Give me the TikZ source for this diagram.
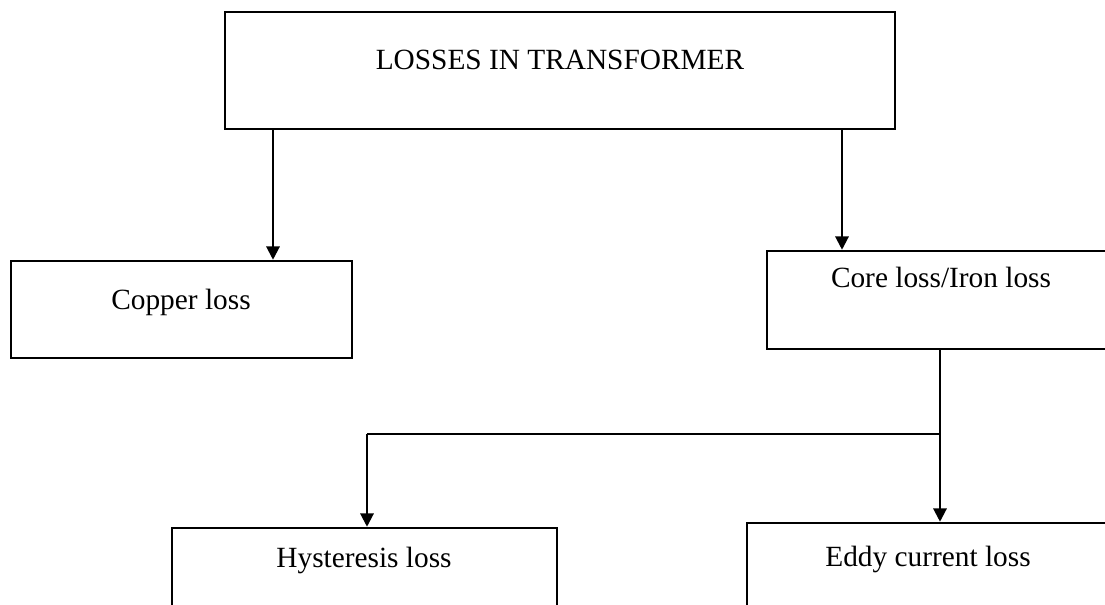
\documentclass[tikz,border=0pt]{standalone}
\usepackage{fontspec}
\setmainfont{Liberation Serif}
\usetikzlibrary{arrows.meta,fit}
\begin{document}
\begin{tikzpicture}[x=0.75pt,y=-0.75pt,
  box/.style={draw=black,line width=1.9pt,inner sep=0pt,fill=none},
  lbl/.style={anchor=base,inner sep=0pt,font=\fontsize{22}{26}\selectfont},
  arr/.style={line width=1.6pt,-{Triangle[length=10pt,width=10pt]}},
  ln/.style={line width=1.6pt}]
\useasboundingbox (0,0) rectangle (1105,605);
\clip (0,0) rectangle (1105,605);
% boxes
\node[box,fit={(225,12) (895,129)}] (top) {};
\node[box,fit={(11,261) (352,358)}] (copper) {};
\node[box,fit={(767,251) (1130,349)}] (core) {};
\node[box,fit={(172,528) (557,640)}] (hyst) {};
\node[box,fit={(747,523) (1130,640)}] (eddy) {};
% labels
\node[lbl] (ttop) at (560,70) {LOSSES IN TRANSFORMER};
\node[lbl] (tcopper) at (181,310) {Copper loss};
\node[lbl] (tcore) at (941,288) {Core loss/Iron loss};
\node[lbl] (thyst) at (364,567) {Hysteresis loss};
\node[lbl] (teddy) at (928,566) {Eddy current loss};
% connector guide coordinates
\coordinate (xa) at (273,0);
\coordinate (xb) at (842,0);
\coordinate (xc) at (940,0);
\coordinate (xd) at (367,0);
\coordinate (j) at (940,434);
\coordinate (k) at (367,434);
% connectors
\draw[arr] (top.south -| xa) -- (copper.north -| xa);
\draw[arr] (top.south -| xb) -- (core.north -| xb);
\draw[ln] (core.south -| xc) -- (j);
\draw[arr] (j) -- (eddy.north -| xc);
\draw[ln] (j) -- (k);
\draw[arr] (k) -- (hyst.north -| xd);
\end{tikzpicture}
\end{document}
